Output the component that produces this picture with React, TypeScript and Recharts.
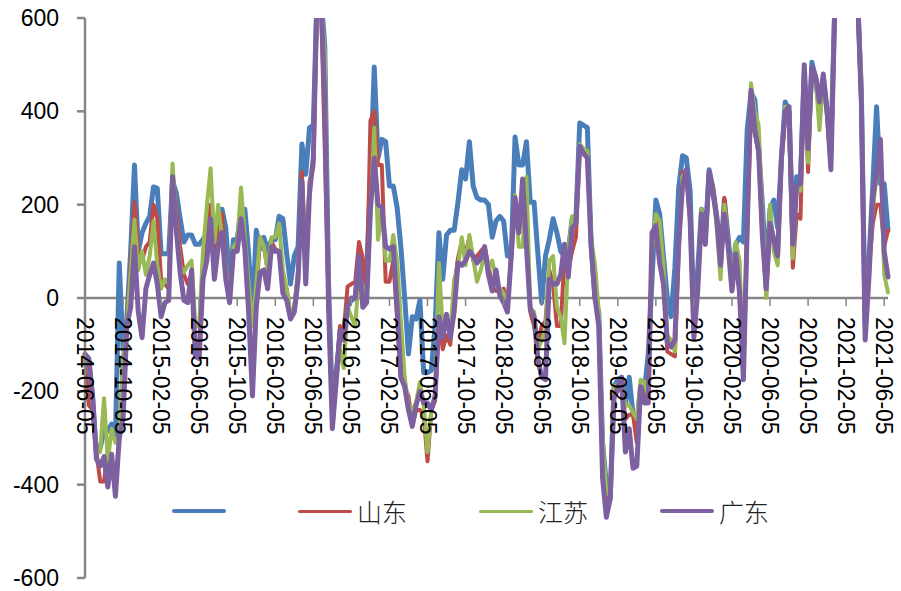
import { LineChart, Line, XAxis, YAxis, ReferenceLine, Legend } from 'recharts'

const tickLabels = [
  '2014-06-05', '2014-10-05', '2015-02-05', '2015-06-05', '2015-10-05', '2016-02-05',
  '2016-06-05', '2016-10-05', '2017-02-05', '2017-06-05', '2017-10-05', '2018-02-05',
  '2018-06-05', '2018-10-05', '2019-02-05', '2019-06-05', '2019-10-05', '2020-02-05',
  '2020-06-05', '2020-10-05', '2021-02-05', '2021-06-05',
]
const yTicks = [-600, -400, -200, 0, 200, 400, 600]

// ten samples between two labelled dates
const POINTS_PER_TICK = 10

const unnamed = [
  -125, -135, -215, -335, -320, -285, -285, -270, -300, 75,
  -110, -45, 100, 285, 100, 140, 160, 175, 238, 235,
  95, 95, 95, 250, 225, 170, 120, 135, 135, 115,
  115, 125, 140, 180, 140, 130, 190, 150, 30, 125,
  125, 190, 190, 95, -40, 145, 105, 130, 100, 125,
  125, 175, 170, 95, 30, 90, 110, 330, 265, 365,
  370, 660, 650, 540, 30, -230, -160, -80, -70, -15,
  -5, 0, 80, 0, 60, 250, 495, 300, 340, 335,
  240, 240, 195, 110, 0, -120, -40, -45, -5, -160,
  -160, -155, -60, 140, 40, 135, 145, 145, 205, 275,
  255, 335, 240, 215, 210, 210, 200, 130, 165, 175,
  165, 90, 90, 345, 285, 285, 335, 205, 205, 95,
  -10, 90, 125, 170, 140, 100, 90, 100, 170, 170,
  375, 370, 365, 115, 0, -30, -310, -400, -430, -190,
  -175, -170, -230, -170, -250, -270, -190, -200, -120, 40,
  210, 180, 90, 0, -40, 65, 235, 305, 300, 230,
  -40, 60, 190, 130, 275, 235, 175, 90, 210, 130,
  40, 115, 130, 120, 360, 440, 425, 320, 200, 50,
  190, 210, 150, 300, 420, 400, 130, 260, 250, 480,
  330, 505, 470, 400, 470, 400, 325, 620, 700, 800,
  800, 800, 800, 650, 440, -60, 80, 240, 410, 245,
  245, 145,
]
const shandong = [
  -125, -230, -240, -330, -393, -393, -330, -370, -400, -300,
  -130, -60, 70, 205, 100, 80, 110, 120, 200, 170,
  40, 30, 20, 270, 190, 110, 50, 30, 50, -100,
  -100, 80, 110, 200, 60, 140, 180, 60, 10, 110,
  110, 180, 130, -20, -190, 10, 130, 110, 60, 120,
  105, 100, 30, 20, -40, -20, 60, 270, 60, 250,
  280, 640, 640, 320, -10, -260, -170, -60, -70, 25,
  30, 35, 120, 85, 0, 380, 400, 285, 285, 35,
  35, 80, -40, -170, -190, -210, -275, -240, -240, -250,
  -350, -240, -220, -50, -110, -80, -100, 20, 85, 120,
  95, 130, 80, 90, 100, 110, 70, 25, 15, 15,
  20, -30, 100, 210, 150, 180, 120, -30, -60, -100,
  -60, -50, 60, 30, -60, -60, 90, 60, 100, 130,
  325, 315, 310, 120, 60, -50, -370, -430, -430, -210,
  -200, -180, -260, -250, -250, -310, -190, -210, -200, 100,
  165, 150, 60, -115, -120, -125, 110, 270, 265, 170,
  -70, 20, 180, 120, 265, 240, 175, 70, 215, 115,
  20, 100, 10, -170, 140, 410, 355, 310, 140, 5,
  150, 125, 90, 300, 390, 380, 65, 180, 170, 490,
  270, 490, 475, 400, 470, 390, 280, 620, 700, 800,
  800, 800, 800, 640, 400, -45, 60, 160, 200, 200,
  110, 145,
]
const jiangsu = [
  -130, -140, -220, -330, -330, -215, -350, -280, -310, -300,
  -130, -60, 55, 168, 60, 100, 50, 90, 165, 70,
  20, 40, 30, 288, 160, 70, 55, 70, 80, -60,
  -60, 100, 195, 278, 120, 200, 130, 60, -10, 110,
  120, 237, 130, 30, -60, 30, 130, 110, 60, 130,
  130, 160, 60, 20, -35, -20, 50, 250, 90, 240,
  300, 640, 640, 530, 0, -250, -180, -110, -150, -20,
  -40, -60, 50, 25, -10, 180, 365, 125, 190, 80,
  80, 135, 80, -50, -170, -230, -240, -225, -180, -230,
  -330, -240, -210, 75, -70, -40, -80, 40, 65, 130,
  70, 135, 85, 35, 60, 95, 60, 80, 40, 20,
  10, -20, 90, 220, 110, 110, 260, -20, -30, -110,
  -90, -70, 80, 90, -20, -40, -97, 100, 175, 175,
  330, 320, 315, 130, 70, -30, -300, -420, -420, -190,
  -185, -175, -230, -230, -245, -260, -175, -180, -210, 100,
  180, 165, 70, -80, -90, -115, 100, 260, 270, 160,
  -70, 30, 190, 130, 245, 235, 150, 40, 200, 120,
  30, 120, 80, -160, 170, 460, 400, 370, 180, 0,
  200, 100, 70, 285, 410, 390, 85, 240, 230, 495,
  290, 490, 470, 360, 475, 400, 330, 620, 700, 800,
  800, 800, 800, 650, 470, -55, 50, 190, 260, 320,
  50, 12,
]
const guangdong = [
  -120, -130, -210, -345, -360, -340, -405, -335, -425, -300,
  -260, -60, -20, 110, -30, -85, 20, 50, 75, 30,
  -40, -10, -5, 260, 145, 55, -5, -10, 60, -125,
  -130, 40, 80, 170, 40, 110, 140, 40, -10, 100,
  100, 170, 105, -30, -210, -20, 55, 60, 20, 110,
  100, 100, 10, -5, -45, -30, 40, 250, 30, 225,
  300, 660, 650, 420, -20, -280, -180, -70, -90, -20,
  0, 0, 90, -20, -10, 190, 300, 200, 195, 110,
  105, 110, -20, -170, -190, -240, -275, -230, -200, -225,
  -225, -240, -210, -40, -85, -35, -85, -30, 75, 70,
  80, 100, 90, 75, 85, 110, 50, 15, 60, 5,
  -10, -30, 90, 215, 140, 255, 110, -25, -40, -130,
  -170, -175, 40, 30, 30, 50, 115, 45, 150, 160,
  325, 310, 300, 110, 0, -60, -385, -470, -430, -215,
  -190, -170, -330, -280, -365, -360, -190, -225, -225, 140,
  155, 75, 30, -95, -105, -90, 115, 240, 275, 170,
  -85, 15, 180, 115, 270, 225, 170, 70, 180, 110,
  15, 95, 10, -175, 150, 445, 360, 315, 130, 20,
  160, 125, 90, 300, 400, 410, 115, 240, 245, 500,
  320, 495, 475, 420, 480, 400, 275, 620, 700, 800,
  800, 800, 800, 650, 420, -90, 45, 215, 270, 340,
  100, 45,
]

const seriesNames = ['', '山东', '江苏', '广东']
const seriesColors = ['#4a7ebb', '#be4b48', '#98b954', '#7d60a0']
const seriesWidths = [5, 4, 4, 5]
const legendWidths = [3.5, 3, 3, 3.5]
const seriesKeys = ['unnamed', 'shandong', 'jiangsu', 'guangdong']

const data = unnamed.map((v, i) => ({
  idx: i,
  unnamed: v,
  shandong: shandong[i],
  jiangsu: jiangsu[i],
  guangdong: guangdong[i],
}))

const AXIS = '#868686'
const FONT = '"Liberation Sans", Arial, sans-serif'
const ZERO_OFFSET = 280 // plot bottom to the zero line

function DateTick({ x, y, payload }: any) {
  const top = y - ZERO_OFFSET
  return (
    <g>
      <line x1={x} x2={x} y1={top} y2={top + 8} stroke={AXIS} strokeWidth={1.5} />
      <text
        x={x}
        y={top + 19}
        transform={`rotate(90 ${x} ${top + 19})`}
        dominantBaseline="central"
        fontFamily={FONT}
        fontSize={23}
        fill="#000"
      >
        {tickLabels[payload.value / POINTS_PER_TICK]}
      </text>
    </g>
  )
}

function LegendRow() {
  return (
    <div style={{ display: 'flex', alignItems: 'center', height: 30, gap: 72 }}>
      {seriesNames.map((name, i) => (
        <div key={i} style={{ display: 'flex', alignItems: 'center', gap: 5 }}>
          <div style={{ width: 54, height: legendWidths[i], borderRadius: 2, background: seriesColors[i] }} />
          {name && (
            <span style={{ fontFamily: '"Noto Sans CJK SC"', fontWeight: 300, fontSize: 25, lineHeight: '30px', color: '#222' }}>
              {name}
            </span>
          )}
        </div>
      ))}
    </div>
  )
}

export default function App() {
  return (
    <div style={{ position: 'absolute', left: 0, top: 0, width: 901, height: 591, background: '#fff' }}>
      <LineChart width={901} height={591} data={data} margin={{ top: 18, right: 13, left: 0, bottom: 3 }}>
        <XAxis
          dataKey="idx"
          type="number"
          domain={[0, 211]}
          ticks={tickLabels.map((_, i) => i * POINTS_PER_TICK)}
          interval={0}
          height={10}
          axisLine={false}
          tickLine={false}
          tickSize={0}
          tickMargin={0}
          tick={<DateTick />}
        />
        <YAxis
          type="number"
          domain={[-600, 600]}
          ticks={yTicks}
          interval={0}
          allowDataOverflow
          width={85}
          axisLine={{ stroke: AXIS, strokeWidth: 2.5 }}
          tickLine={{ stroke: AXIS, strokeWidth: 2.5 }}
          tickSize={8}
          tickMargin={18}
          tick={{ fill: '#000', fontSize: 23, fontFamily: FONT }}
        />
        <ReferenceLine y={0} stroke={AXIS} strokeWidth={2.5} />
        {seriesKeys.map((key, i) => (
          <Line
            key={key}
            type="linear"
            dataKey={key}
            name={seriesNames[i] || 'unnamed'}
            stroke={seriesColors[i]}
            strokeWidth={seriesWidths[i]}
            strokeLinejoin="round"
            strokeLinecap="round"
            dot={false}
            activeDot={false}
            isAnimationActive={false}
          />
        ))}
        <Legend
          layout="horizontal"
          verticalAlign="middle"
          align="center"
          content={() => <LegendRow />}
          wrapperStyle={{ left: 172, top: 496, width: 640 }}
        />
      </LineChart>
    </div>
  )
}
